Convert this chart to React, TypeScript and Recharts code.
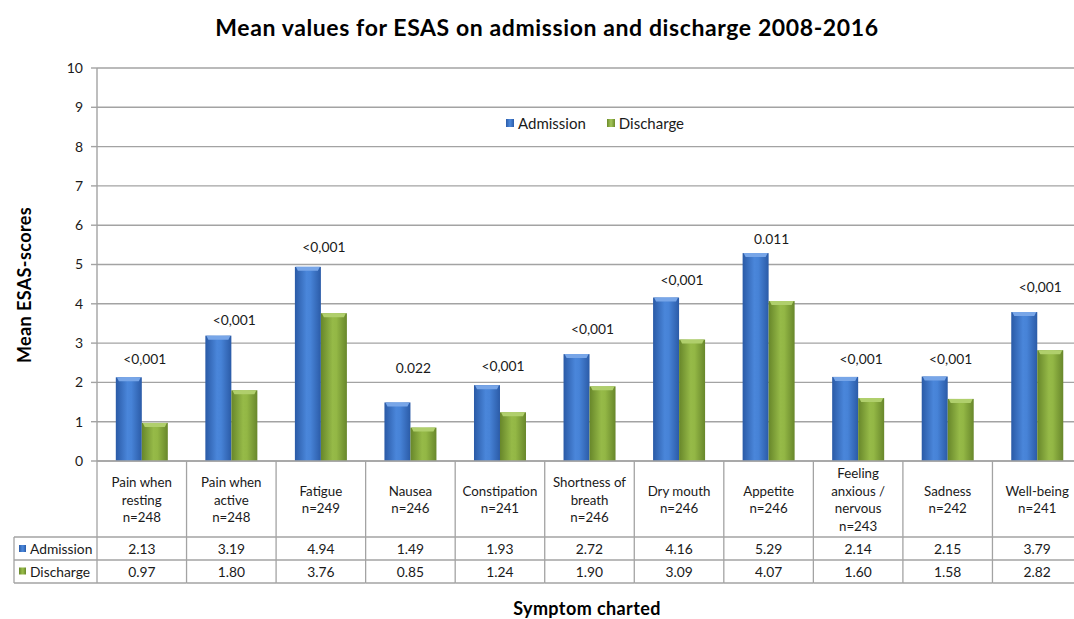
import React from "react";
import {
  ComposedChart,
  Bar,
  Line,
  XAxis,
  YAxis,
  CartesianGrid,
  Legend,
  LabelList,
} from "recharts";

const categories = [
  "Pain when\nresting\nn=248",
  "Pain when\nactive\nn=248",
  "Fatigue\nn=249",
  "Nausea\nn=246",
  "Constipation\nn=241",
  "Shortness of\nbreath\nn=246",
  "Dry mouth\nn=246",
  "Appetite\nn=246",
  "Feeling\nanxious /\nnervous\nn=243",
  "Sadness\nn=242",
  "Well-being\nn=241",
];
const admission = [2.13, 3.19, 4.94, 1.49, 1.93, 2.72, 4.16, 5.29, 2.14, 2.15, 3.79];
const discharge = [0.97, 1.8, 3.76, 0.85, 1.24, 1.9, 3.09, 4.07, 1.6, 1.58, 2.82];
const pValues = ["<0,001", "<0,001", "<0,001", "0.022", "<0,001", "<0,001", "<0,001", "0.011", "<0,001", "<0,001", "<0,001"];
const pLabelLevel = [2.6, 3.59, 5.47, 2.39, 2.44, 3.36, 4.63, 5.67, 2.6, 2.6, 4.45];
const yTicks = [0, 1, 2, 3, 4, 5, 6, 7, 8, 9, 10];

const data = categories.map((c, i) => ({
  category: c,
  admission: admission[i],
  discharge: discharge[i],
  pLevel: pLabelLevel[i],
  pValue: pValues[i],
}));

const FONT = "Lato, 'Open Sans', sans-serif";
const W = 1082;
const H = 619;
const MARGIN = { top: 68, right: 0, bottom: 36, left: 0 };
const YAXIS_W = 97;
const XAXIS_H = 122;
const BAND = (W - MARGIN.left - MARGIN.right - YAXIS_W) / categories.length;
const GRID = "#a3a3a3";
const TEXT = "#1a1a1a";
const fmt = (v: number) => v.toFixed(2);

const BarShape = (props: any) => {
  const { x, y, width, height, fill, top } = props;
  if (!height || height <= 0) return null;
  const bev = Math.min(4, height);
  return (
    <g>
      <rect x={x} y={y} width={width} height={height} fill={fill} />
      <path
        d={`M${x + 1},${y} L${x + width - 1},${y} L${x + width - 3},${y + bev} L${x + 3},${y + bev} Z`}
        fill={top}
      />
    </g>
  );
};

const TableTick = (props: any) => {
  const { x, y, payload } = props;
  const i: number = payload.index ?? props.index;
  const half = payload.offset && payload.offset > 0 ? payload.offset : BAND / 2;
  const left = x - half;
  const right = x + half;
  const top = y;
  const hdrB = top + 76;
  const r1B = top + 99;
  const r2B = top + 122;
  const lines = String(payload.value).split("\n");
  const lh = 17.7;
  const cy = top + 38.5;
  const startY = cy - ((lines.length - 1) * lh) / 2;
  return (
    <g fontFamily={FONT} fontSize={13.3} fill={TEXT}>
      <line x1={right} y1={top} x2={right} y2={r2B} stroke={GRID} strokeWidth={1.3} />
      {i === 0 && (
        <g>
          <line x1={left} y1={top} x2={left} y2={r2B} stroke={GRID} strokeWidth={1.3} />
          <line x1={14} y1={hdrB} x2={left} y2={hdrB} stroke={GRID} strokeWidth={1.3} />
          <line x1={14} y1={r1B} x2={left} y2={r1B} stroke={GRID} strokeWidth={1.3} />
          <line x1={14} y1={r2B} x2={left} y2={r2B} stroke={GRID} strokeWidth={1.3} />
          <line x1={14} y1={hdrB} x2={14} y2={r2B} stroke={GRID} strokeWidth={1.3} />
          <rect x={19} y={top + 84} width={7} height={7} fill="url(#gBlue)" />
          <text x={30} y={top + 87.5} dominantBaseline="central" fill={TEXT} fontSize={13.8}>Admission</text>
          <rect x={19} y={top + 106.5} width={7} height={7} fill="url(#gGreen)" />
          <text x={30} y={top + 110} dominantBaseline="central" fill={TEXT} fontSize={13.8}>Discharge</text>
        </g>
      )}
      <line x1={left} y1={hdrB} x2={right} y2={hdrB} stroke={GRID} strokeWidth={1.3} />
      <line x1={left} y1={r1B} x2={right} y2={r1B} stroke={GRID} strokeWidth={1.3} />
      <line x1={left} y1={r2B} x2={right} y2={r2B} stroke={GRID} strokeWidth={1.3} />
      {lines.map((ln, k) => (
        <text key={k} x={x} y={startY + k * lh} textAnchor="middle" dominantBaseline="central" fill={TEXT}>
          {ln}
        </text>
      ))}
      <text x={x} y={top + 87.5} textAnchor="middle" dominantBaseline="central" fill={TEXT} fontSize={13.8}>
        {fmt(admission[i])}
      </text>
      <text x={x} y={top + 110} textAnchor="middle" dominantBaseline="central" fill={TEXT} fontSize={13.8}>
        {fmt(discharge[i])}
      </text>
    </g>
  );
};

const PLabel = (props: any) => {
  const { x, y, value } = props;
  return (
    <text x={x + 3} y={y} textAnchor="middle" dominantBaseline="central" fontFamily={FONT} fontSize={13.8} fill={TEXT}>
      {value}
    </text>
  );
};

const renderLegend = () => (
  <div style={{ display: "flex", alignItems: "center", fontFamily: FONT, fontSize: 15, color: TEXT, whiteSpace: "nowrap" }}>
    <span style={{ display: "inline-block", width: 8, height: 8, background: "linear-gradient(90deg,#2c5ca8,#4d89dc,#2c5ca8)", marginRight: 4 }} />
    <span style={{ marginRight: 21 }}>Admission</span>
    <span style={{ display: "inline-block", width: 8, height: 8, background: "linear-gradient(90deg,#6c8b2a,#a4c65a,#6c8b2a)", marginRight: 4 }} />
    <span>Discharge</span>
  </div>
);

export default function App() {
  return (
    <div style={{ position: "fixed", left: 0, top: 0, width: 1074, height: 619, overflow: "hidden", background: "#fff" }}>
      <svg width={0} height={0} style={{ position: "absolute" }}>
        <defs>
          <linearGradient id="gBlue" x1="0" y1="0" x2="1" y2="0">
            <stop offset="0%" stopColor="#2a5aa6" />
            <stop offset="45%" stopColor="#4a86da" />
            <stop offset="60%" stopColor="#4783d7" />
            <stop offset="100%" stopColor="#2b5ba7" />
          </linearGradient>
          <linearGradient id="gGreen" x1="0" y1="0" x2="1" y2="0">
            <stop offset="0%" stopColor="#67862a" />
            <stop offset="45%" stopColor="#96ba48" />
            <stop offset="60%" stopColor="#93b745" />
            <stop offset="100%" stopColor="#68872b" />
          </linearGradient>
        </defs>
      </svg>
      <div style={{ position: "absolute", left: 0, width: 1094, top: 13, textAlign: "center", fontFamily: FONT, fontWeight: 700, fontSize: 23, letterSpacing: 0.6, color: "#000", whiteSpace: "nowrap" }}>
        Mean values for ESAS on admission and discharge 2008-2016
      </div>
      <div style={{ position: "absolute", left: 487, width: 200, top: 597, textAlign: "center", fontFamily: FONT, fontWeight: 700, fontSize: 18, letterSpacing: 0.4, color: "#000" }}>
        Symptom charted
      </div>
      <div style={{ position: "absolute", left: 24, top: 285, width: 0, height: 0 }}>
        <div style={{ position: "absolute", left: -100, top: -11, width: 200, textAlign: "center", transform: "rotate(-90deg)", fontFamily: FONT, fontWeight: 700, fontSize: 18, letterSpacing: 0.4, color: "#000", whiteSpace: "nowrap" }}>
          Mean ESAS-scores
        </div>
      </div>
      <div style={{ position: "absolute", left: 0, top: 0 }}>
        <ComposedChart width={W} height={H} data={data} margin={MARGIN} barCategoryGap="21%" barGap={0}>
          <CartesianGrid vertical={false} stroke={GRID} strokeWidth={1.4} />
          <XAxis
            dataKey="category"
            interval={0}
            height={XAXIS_H}
            tickSize={0}
            tickMargin={0}
            tickLine={false}
            axisLine={{ stroke: GRID, strokeWidth: 1.4 }}
            tick={<TableTick />}
          />
          <YAxis
            width={YAXIS_W}
            domain={[0, 10]}
            ticks={yTicks}
            interval={0}
            tickSize={6}
            tickMargin={8}
            tickLine={{ stroke: GRID, strokeWidth: 1.4 }}
            axisLine={{ stroke: GRID, strokeWidth: 1.4 }}
            tick={{ fontFamily: FONT, fontSize: 14, fill: TEXT }}
          />
          <Legend
            verticalAlign="middle"
            align="center"
            content={renderLegend}
            wrapperStyle={{ top: 114, left: 506, width: 220, height: 18 }}
          />
          <Bar dataKey="admission" name="Admission" fill="url(#gBlue)" isAnimationActive={false} shape={(p: any) => <BarShape {...p} fill="url(#gBlue)" top="#78a6e8" />} />
          <Bar dataKey="discharge" name="Discharge" fill="url(#gGreen)" isAnimationActive={false} shape={(p: any) => <BarShape {...p} fill="url(#gGreen)" top="#b0cf6c" />} />
          <Line dataKey="pLevel" stroke="none" dot={false} activeDot={false} legendType="none" isAnimationActive={false}>
            <LabelList dataKey="pValue" content={<PLabel />} />
          </Line>
        </ComposedChart>
      </div>
    </div>
  );
}
